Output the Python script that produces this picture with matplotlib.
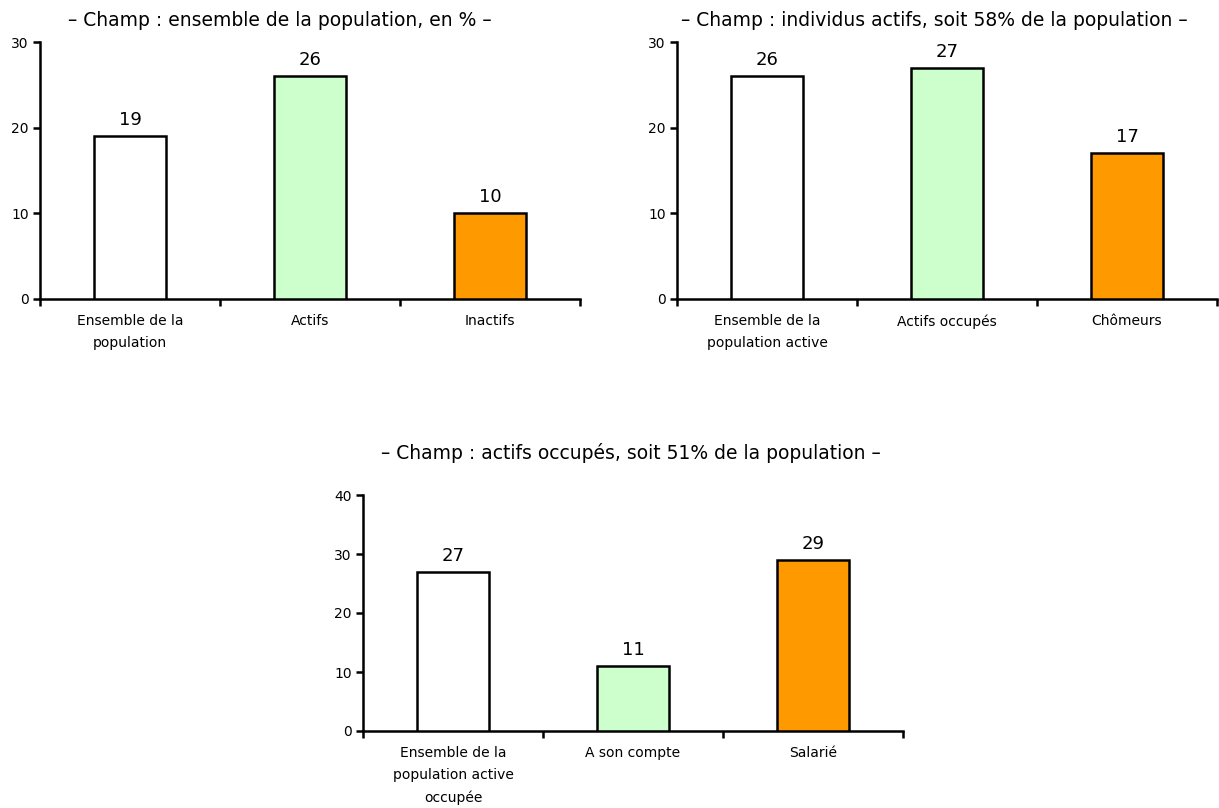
import matplotlib
matplotlib.use("Agg")
import matplotlib.pyplot as plt
import numpy as np

plt.rcParams['font.family'] = ['DejaVu Sans']

W, H = 1219, 808

titles = [
    "– Champ : ensemble de la population, en % –",
    "– Champ : individus actifs, soit 58% de la population –",
    "– Champ : actifs occupés, soit 51% de la population –",
]
cats1 = ["Ensemble de la\npopulation", "Actifs", "Inactifs"]
vals1 = [19, 26, 10]
cats2 = ["Ensemble de la\npopulation active", "Actifs occupés", "Chômeurs"]
vals2 = [26, 27, 17]
cats3 = ["Ensemble de la\npopulation active\noccupée", "A son compte", "Salarié"]
vals3 = [27, 11, 29]
yticks1 = [0, 10, 20, 30]
yticks3 = [0, 10, 20, 30, 40]

colors = ["#FFFFFF", "#CCFFCC", "#FF9900"]

fig = plt.figure(figsize=(W / 100, H / 100), dpi=100)


def px_axes(left, right, top, bottom):
    return fig.add_axes([left / W, 1 - bottom / H, (right - left) / W, (bottom - top) / H])


def draw(ax, cats, vals, yticks):
    x = np.arange(len(cats))
    ax.bar(x, vals, width=0.405, color=colors, edgecolor="black", linewidth=1.8, zorder=3)
    ax.set_xlim(-0.5, len(cats) - 0.5)
    ax.set_ylim(yticks[0], yticks[-1])
    ax.set_yticks(yticks)
    ax.set_yticklabels([str(t) for t in yticks], fontsize=10)
    # category boundaries as major ticks, labels on minor ticks
    ax.set_xticks(np.arange(len(cats) + 1) - 0.5)
    ax.set_xticklabels([])
    ax.set_xticks(x, minor=True)
    ax.set_xticklabels(cats, minor=True, fontsize=10, linespacing=1.7, va="top")
    ax.tick_params(axis="x", which="minor", length=0, pad=11)
    ax.tick_params(axis="x", which="major", length=5, width=1.8, direction="out")
    ax.tick_params(axis="y", length=5, width=1.8, direction="out", pad=3)
    for s in ["top", "right"]:
        ax.spines[s].set_visible(False)
    for s in ["left", "bottom"]:
        ax.spines[s].set_linewidth(1.8)
    for xi, v in zip(x, vals):
        ax.annotate(str(v), (xi, v), xytext=(0, 5), textcoords="offset points",
                    ha="center", va="bottom", fontsize=13)
    ax.set_facecolor("white")
    return ax


ax1 = px_axes(40, 580, 42, 299)
draw(ax1, cats1, vals1, yticks1)
fig.text(280 / W, 1 - 20 / H, titles[0], ha="center", va="center", fontsize=13.5)

ax2 = px_axes(677, 1217, 42, 299)
draw(ax2, cats2, vals2, yticks1)
fig.text(934 / W, 1 - 21 / H, titles[1], ha="center", va="center", fontsize=13.5)

ax3 = px_axes(363, 903, 495, 731)
draw(ax3, cats3, vals3, yticks3)
fig.text(631 / W, 1 - 453 / H, titles[2], ha="center", va="center", fontsize=13.5)

fig.savefig("out.png", dpi=100, facecolor="white")
